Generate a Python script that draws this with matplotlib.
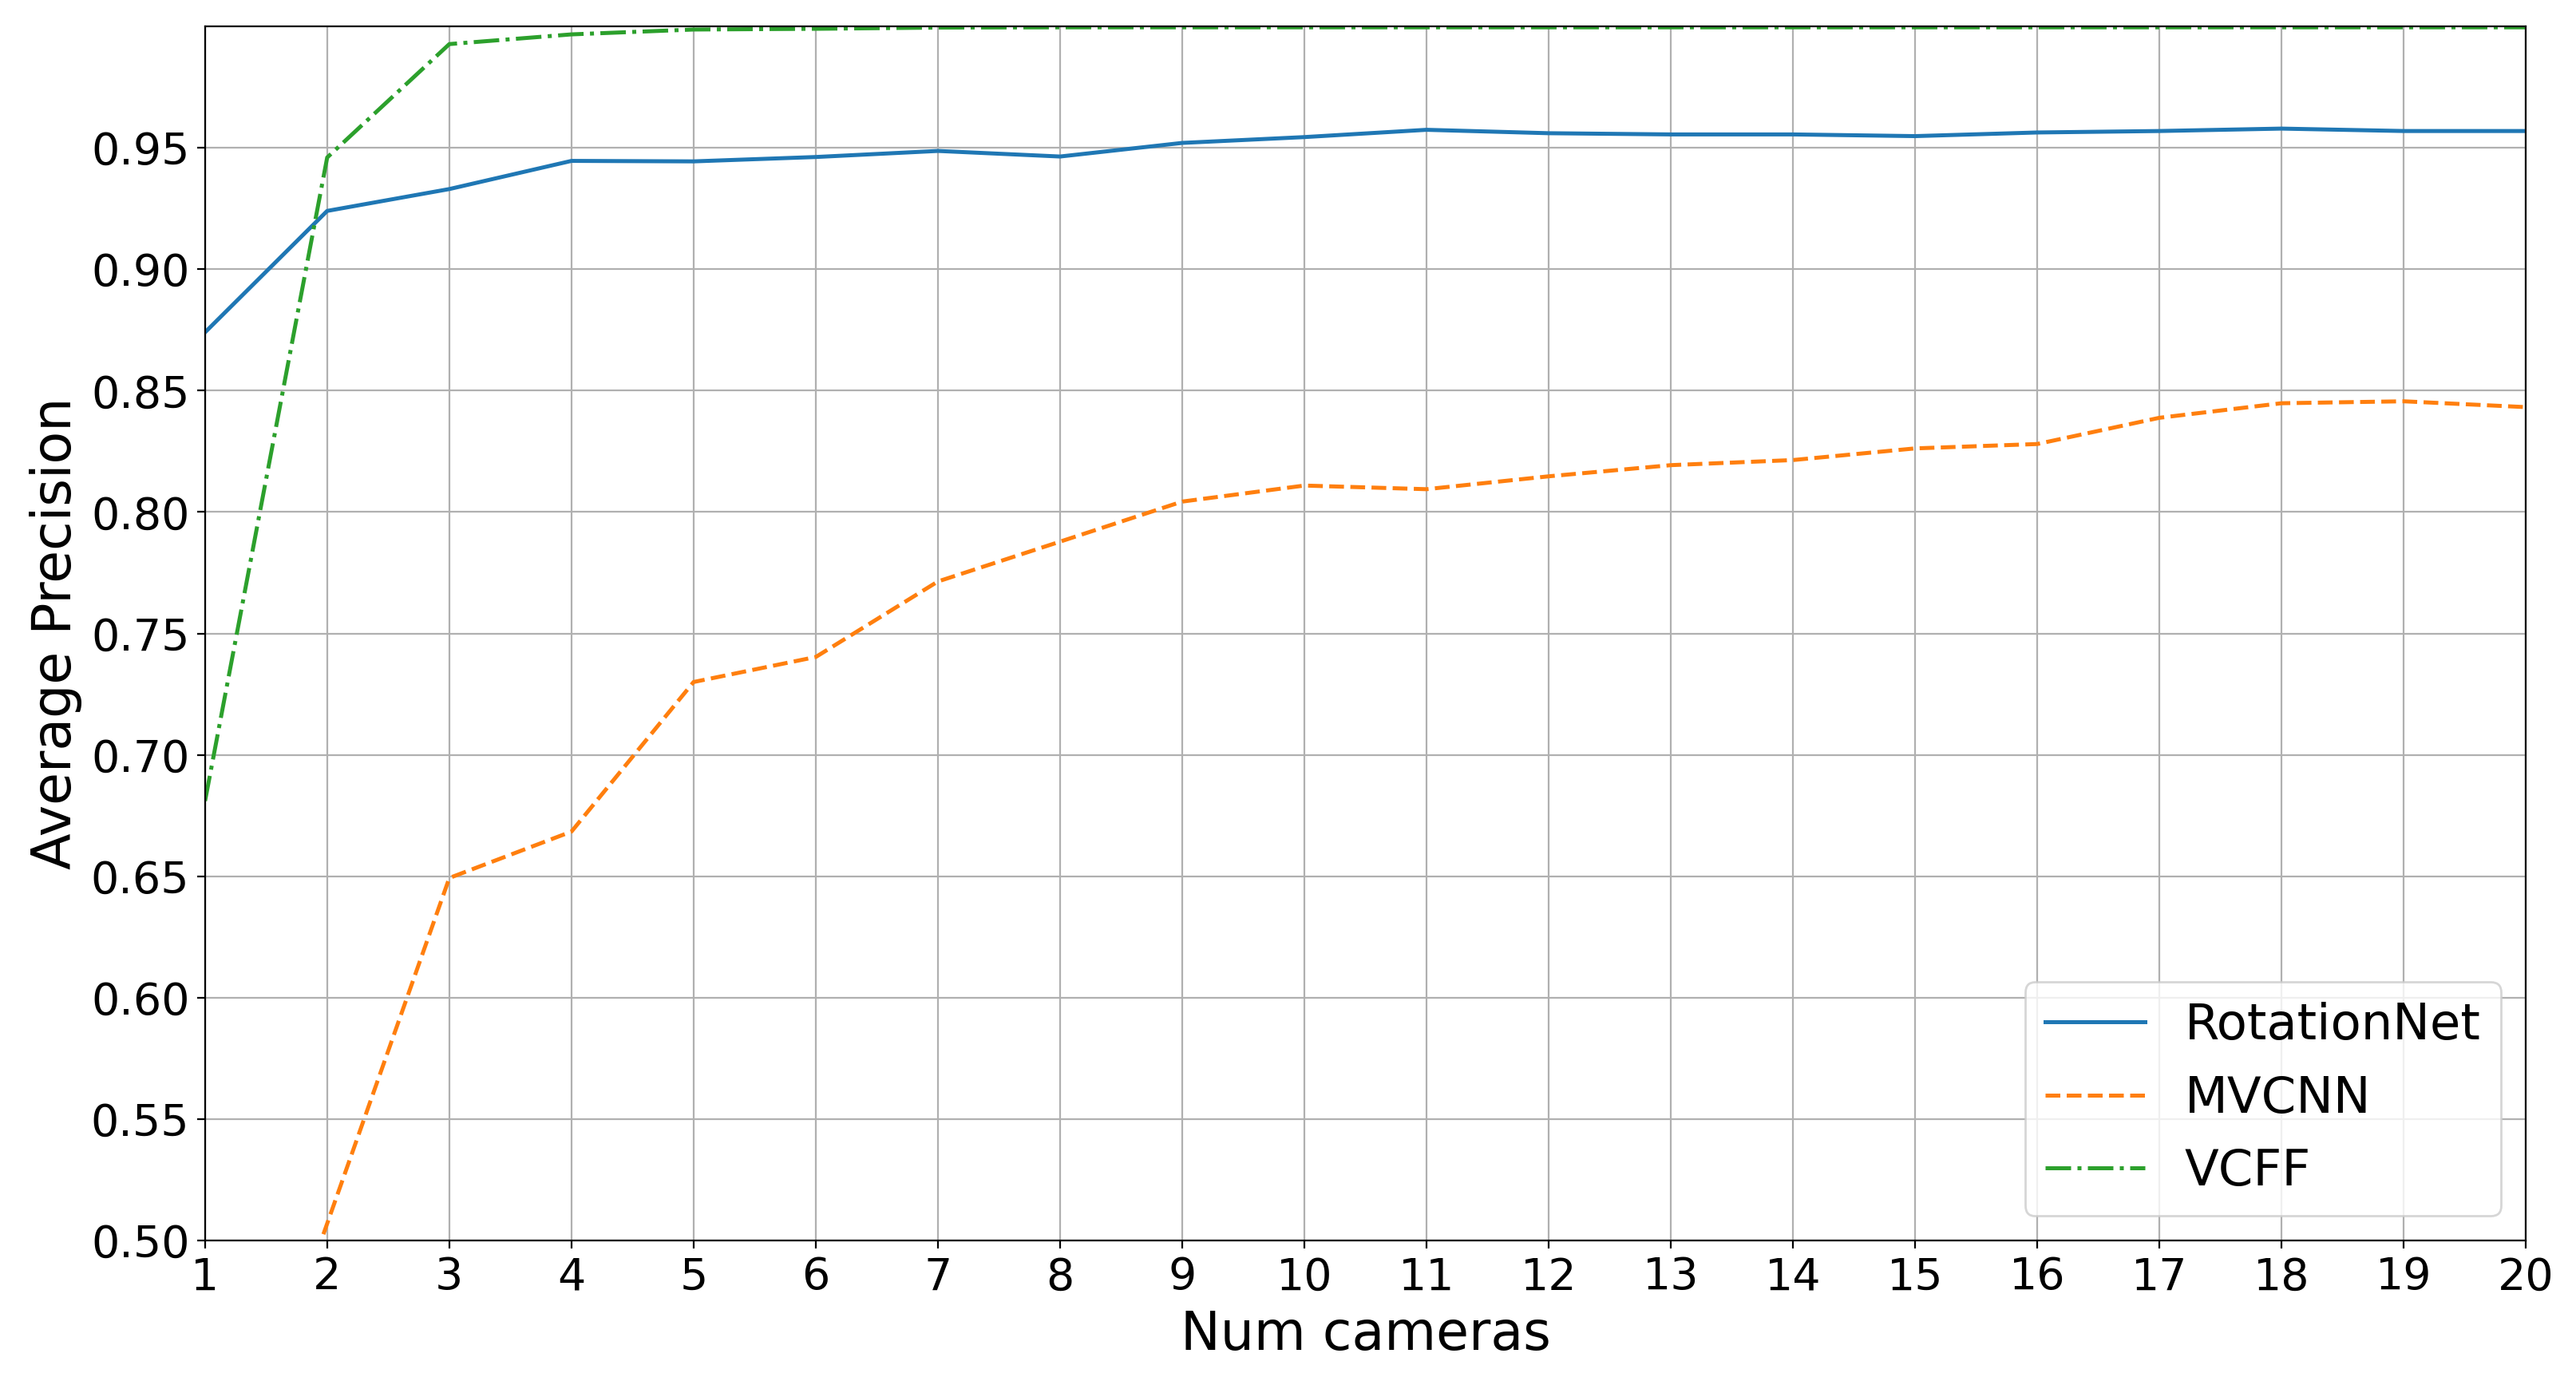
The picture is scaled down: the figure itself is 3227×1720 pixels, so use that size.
import matplotlib
matplotlib.use("Agg")
import matplotlib.pyplot as plt

num_cameras = list(range(1, 21))

rotationnet = [0.874, 0.924, 0.933, 0.9446, 0.9444, 0.9462, 0.9487, 0.9464, 0.952, 0.9544,
               0.9574, 0.956, 0.9555, 0.9555, 0.9548, 0.9563, 0.9569, 0.9579, 0.9569, 0.9569]
mvcnn = [0.365, 0.507, 0.6493, 0.6684, 0.730, 0.7403, 0.7714, 0.7878, 0.8043, 0.8109,
         0.8094, 0.8147, 0.8193, 0.8214, 0.8262, 0.828, 0.8388, 0.8448, 0.8456, 0.8432]
vcff = [0.681, 0.946, 0.9927, 0.9967, 0.9987, 0.999, 0.9995, 0.9996, 0.9996, 0.9996,
        0.9996, 0.9996, 0.9996, 0.9996, 0.9996, 0.9996, 0.9996, 0.9996, 0.9996, 0.9996]

series_labels = ["RotationNet", "MVCNN", "VCFF"]
yticks = [0.50, 0.55, 0.60, 0.65, 0.70, 0.75, 0.80, 0.85, 0.90, 0.95]

fig = plt.figure(figsize=(16.135, 8.6), dpi=200)
ax = fig.add_axes([0.0796, 0.0965, 0.9009, 0.8843])

ax.plot(num_cameras, rotationnet, color="#1f77b4", linestyle="-", linewidth=1.8, label=series_labels[0])
ax.plot(num_cameras, mvcnn, color="#ff7f0e", linestyle="--", linewidth=1.8, label=series_labels[1])
ax.plot(num_cameras, vcff, color="#2ca02c", linestyle="-.", linewidth=1.8, label=series_labels[2])

ax.set_xlim(1, 20)
ax.set_ylim(0.5, 1.0)
ax.set_xticks(num_cameras)
ax.set_yticks(yticks)
ax.set_yticklabels([f"{v:.2f}" for v in yticks])
ax.tick_params(axis="both", labelsize=20)
ax.grid(True, color="#b0b0b0", linewidth=0.8)
ax.set_axisbelow(True)

ax.set_xlabel("Num cameras", fontsize=24, labelpad=4)
ax.set_ylabel("Average Precision", fontsize=24)

ax.legend(loc="lower right", fontsize=22.5)

fig.savefig("out.png", dpi=200)
